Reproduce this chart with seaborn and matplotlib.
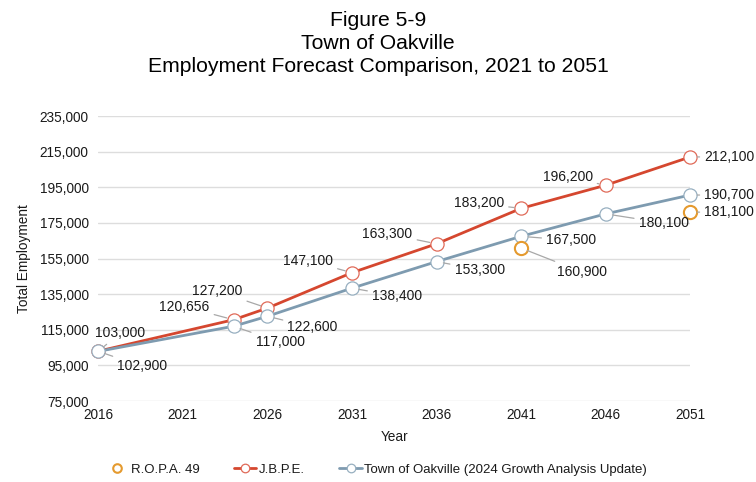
import pandas as pd
import matplotlib
matplotlib.use("Agg")
import matplotlib.pyplot as plt
import seaborn as sns

# chart data
ropa_years = [2041, 2051]
ropa_values = [160900, 181100]

jbpe_years = [2016, 2024, 2026, 2031, 2036, 2041, 2046, 2051]
jbpe_values = [103000, 120656, 127200, 147100, 163300, 183200, 196200, 212100]

town_years = [2016, 2024, 2026, 2031, 2036, 2041, 2046, 2051]
town_values = [102900, 117000, 122600, 138400, 153300, 167500, 180100, 190700]

x_ticks = [2016, 2021, 2026, 2031, 2036, 2041, 2046, 2051]
y_ticks = [75000, 95000, 115000, 135000, 155000, 175000, 195000, 215000, 235000]

RED = "#d5472f"
BLUE = "#7e9bb0"
ORANGE = "#e59a2e"
TXT = "#1a1a1a"

sns.set_theme(style="white")
plt.rcParams["font.family"] = ["Liberation Sans", "DejaVu Sans"]

fig = plt.figure(figsize=(7.56, 4.82), dpi=100)
ax = fig.add_axes([0.130, 0.168, 0.783, 0.591])

ropa = pd.DataFrame({"Year": ropa_years, "Employment": ropa_values})
jbpe = pd.DataFrame({"Year": jbpe_years, "Employment": jbpe_values})
town = pd.DataFrame({"Year": town_years, "Employment": town_values})

sns.lineplot(data=jbpe, x="Year", y="Employment", ax=ax, color=RED, lw=2.0,
             marker="o", markersize=9.5, mfc="white", mec="#e06a58", mew=0.9,
             label="J.B.P.E.", clip_on=False, zorder=3)
sns.lineplot(data=town, x="Year", y="Employment", ax=ax, color=BLUE, lw=2.0,
             marker="o", markersize=9.5, mfc="white", mec="#97afc0", mew=0.9,
             label="Town of Oakville (2024 Growth Analysis Update)", clip_on=False, zorder=4)
ax.plot(ropa["Year"], ropa["Employment"], ls="none", marker="o", markersize=9.5,
        mfc="white", mec=ORANGE, mew=1.5, label="R.O.P.A. 49", clip_on=False, zorder=5)

# data labels: (year, value, offset px, ha)
labels = [
    (2016, 103000, (22, 18), "center"),
    (2024, 120656, (-24, 13), "right"),
    (2026, 127200, (-25, 17), "right"),
    (2031, 147100, (-19, 12), "right"),
    (2036, 163300, (-24, 10), "right"),
    (2041, 183200, (-17, 5), "right"),
    (2046, 196200, (-13, 8), "right"),
    (2051, 212100, (14, 0), "left"),
    (2016, 102900, (19, -15), "left"),
    (2024, 117000, (22, -16), "left"),
    (2026, 122600, (20, -11), "left"),
    (2031, 138400, (20, -8), "left"),
    (2036, 153300, (18, -8), "left"),
    (2041, 167500, (25, -4), "left"),
    (2046, 180100, (33, -9), "left"),
    (2051, 190700, (14, 0), "left"),
    (2041, 160900, (36, -24), "left"),
    (2051, 181100, (14, 0), "left"),
]
for yr, val, off, ha in labels:
    ax.annotate(f"{val:,}", xy=(yr, val), xytext=off, textcoords="offset pixels",
                ha=ha, va="center", fontsize=10, color=TXT,
                arrowprops=dict(arrowstyle="-", color="#a8a8a8", lw=0.9,
                                shrinkA=1, shrinkB=5),
                annotation_clip=False, zorder=6)

ax.set_xlim(2016, 2051)
ax.set_ylim(75000, 235000)
ax.set_xticks(x_ticks)
ax.set_yticks(y_ticks)
ax.yaxis.set_major_formatter(matplotlib.ticker.FuncFormatter(lambda v, p: f"{int(v):,}"))
ax.tick_params(axis="both", labelsize=9.8, colors=TXT, length=0)
ax.tick_params(axis="y", pad=7)
ax.tick_params(axis="x", pad=5)
ax.grid(axis="y", color="#dddddd", lw=1)
ax.grid(axis="x", visible=False)
sns.despine(ax=ax, left=True, bottom=True)

ax.set_xlabel("Year", fontsize=9.8, color=TXT, labelpad=6)
ax.set_ylabel("Total Employment", fontsize=9.8, color=TXT, labelpad=6)

fig.suptitle("Figure 5-9\nTown of Oakville\nEmployment Forecast Comparison, 2021 to 2051",
             fontsize=15.2, y=0.978, linespacing=1.28, color="black")

handles, lbls = ax.get_legend_handles_labels()
order = [lbls.index("R.O.P.A. 49"), lbls.index("J.B.P.E."),
         lbls.index("Town of Oakville (2024 Growth Analysis Update)")]
leg = ax.legend([handles[i] for i in order], [lbls[i] for i in order],
                loc="center", bbox_to_anchor=(0.47, -0.24), ncol=3, frameon=False,
                fontsize=9.5, handlelength=1.7, handletextpad=0.2, columnspacing=2.6,
                markerscale=0.65)
for t in leg.get_texts():
    t.set_color(TXT)

fig.savefig("out.png", dpi=100)
